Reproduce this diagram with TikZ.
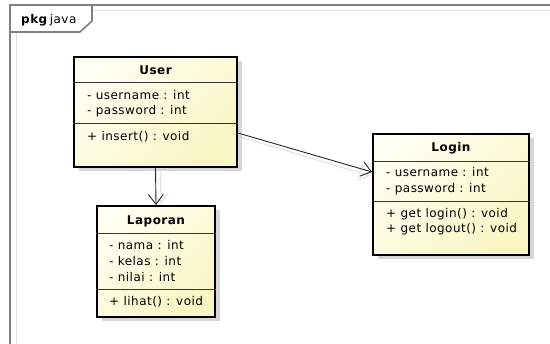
\documentclass[tikz,border=0pt]{standalone}
\usepackage{fontspec}
\setmainfont{DejaVu Sans}
\newfontfamily\umlfont[LetterSpace=4]{DejaVu Sans}
\usetikzlibrary{arrows.meta,shadows}
\definecolor{framegray}{RGB}{128,128,128}
\definecolor{lightline}{RGB}{225,225,225}
\definecolor{filltop}{RGB}{255,255,242}
\definecolor{fillbot}{RGB}{250,245,196}
\definecolor{shadowgray}{RGB}{215,215,215}
\definecolor{arrowshadow}{RGB}{228,228,228}
\tikzset{
  classbox/.style={draw=black, line width=1.8pt, inner sep=0pt,
    top color=filltop, bottom color=fillbot, shading angle=45,
    drop shadow={shadow xshift=5pt, shadow yshift=-4pt, fill=shadowgray, opacity=1}},
  divider/.style={draw=black!80, line width=0.9pt},
  txt/.style={anchor=west, inner sep=0pt, font=\umlfont\fontsize{12pt}{14pt}\selectfont, text height=8.5pt, text depth=2.5pt},
  ttl/.style={anchor=center, inner sep=0pt, font=\umlfont\fontsize{12pt}{14pt}\selectfont\bfseries, text height=8.5pt, text depth=2.5pt},
  assoc/.style={draw=black!85, line width=0.9pt, -{Straight Barb[length=10pt,width=15pt,line width=0.9pt]}},
  assocshadow/.style={draw=arrowshadow, line width=1.2pt, -{Straight Barb[length=10pt,width=15pt,line width=1.2pt]}},
  framebig/.style={draw=framegray, line width=1.6pt},
  framelight/.style={draw=lightline, line width=1pt},
}
\begin{document}
\begin{tikzpicture}[x=1pt,y=-1pt]
\useasboundingbox (0,0) rectangle (550,344);
% package frame
\draw[framelight] (16,344) -- (16,33);
\draw[framelight] (93,11) -- (550,11);
\draw[framebig] (10,350) -- (10,5) -- (556,5);
\draw[framebig] (10,32) -- (80,32) -- (92,21) -- (92,5);
\node[txt, anchor=west] (pkg) at (21,20.5) {\textbf{pkg}\,java};

% class boxes
\node[classbox, minimum width=163pt, minimum height=110pt] (user) at (155.5,112) {};
\node[classbox, minimum width=118pt, minimum height=111pt] (lap) at (156,261.5) {};
\node[classbox, minimum width=156pt, minimum height=121pt] (login) at (451,194.5) {};

% arrow shadows
\draw[assocshadow] ([xshift=5pt]user.south) -- ([xshift=5pt,yshift=1pt]lap.north);
\draw[assocshadow] ([xshift=3pt,yshift=-25pt]user.east) -- ([xshift=-2pt,yshift=18.5pt]login.west);

% redraw boxes over shadows
\node[classbox, minimum width=163pt, minimum height=110pt] at (user.center) {};
\node[classbox, minimum width=118pt, minimum height=111pt] at (lap.center) {};
\node[classbox, minimum width=156pt, minimum height=121pt] at (login.center) {};

% User
\draw[divider] (user.west |- 0,82) -- (user.east |- 0,82);
\draw[divider] (user.west |- 0,123) -- (user.east |- 0,123);
\node[ttl] (userT) at (155.5,71.5) {User};
\node[txt] (userA1) at (87,97) {- username : int};
\node[txt] (userA2) at (87,112) {- password : int};
\node[txt] (userM1) at (87,138) {+ insert() : void};

% Laporan
\draw[divider] (lap.west |- 0,233) -- (lap.east |- 0,233);
\draw[divider] (lap.west |- 0,289) -- (lap.east |- 0,289);
\node[ttl] (lapT) at (156,221.5) {Laporan};
\node[txt] (lapA1) at (109,247) {- nama : int};
\node[txt] (lapA2) at (109,263) {- kelas : int};
\node[txt] (lapA3) at (109,279) {- nilai : int};
\node[txt] (lapM1) at (109,303) {+ lihat() : void};

% Login
\draw[divider] (login.west |- 0,161) -- (login.east |- 0,161);
\draw[divider] (login.west |- 0,201) -- (login.east |- 0,201);
\node[ttl] (loginT) at (451,148.5) {Login};
\node[txt] (loginA1) at (386,174) {- username : int};
\node[txt] (loginA2) at (386,190) {- password : int};
\node[txt] (loginM1) at (386,215) {+ get login() : void};
\node[txt] (loginM2) at (386,230) {+ get logout() : void};

% associations
\draw[assoc] (user.south) -- (lap.north);
\draw[assoc] ([yshift=-21pt]user.east) -- ([yshift=22.5pt]login.west);
\end{tikzpicture}
\end{document}
